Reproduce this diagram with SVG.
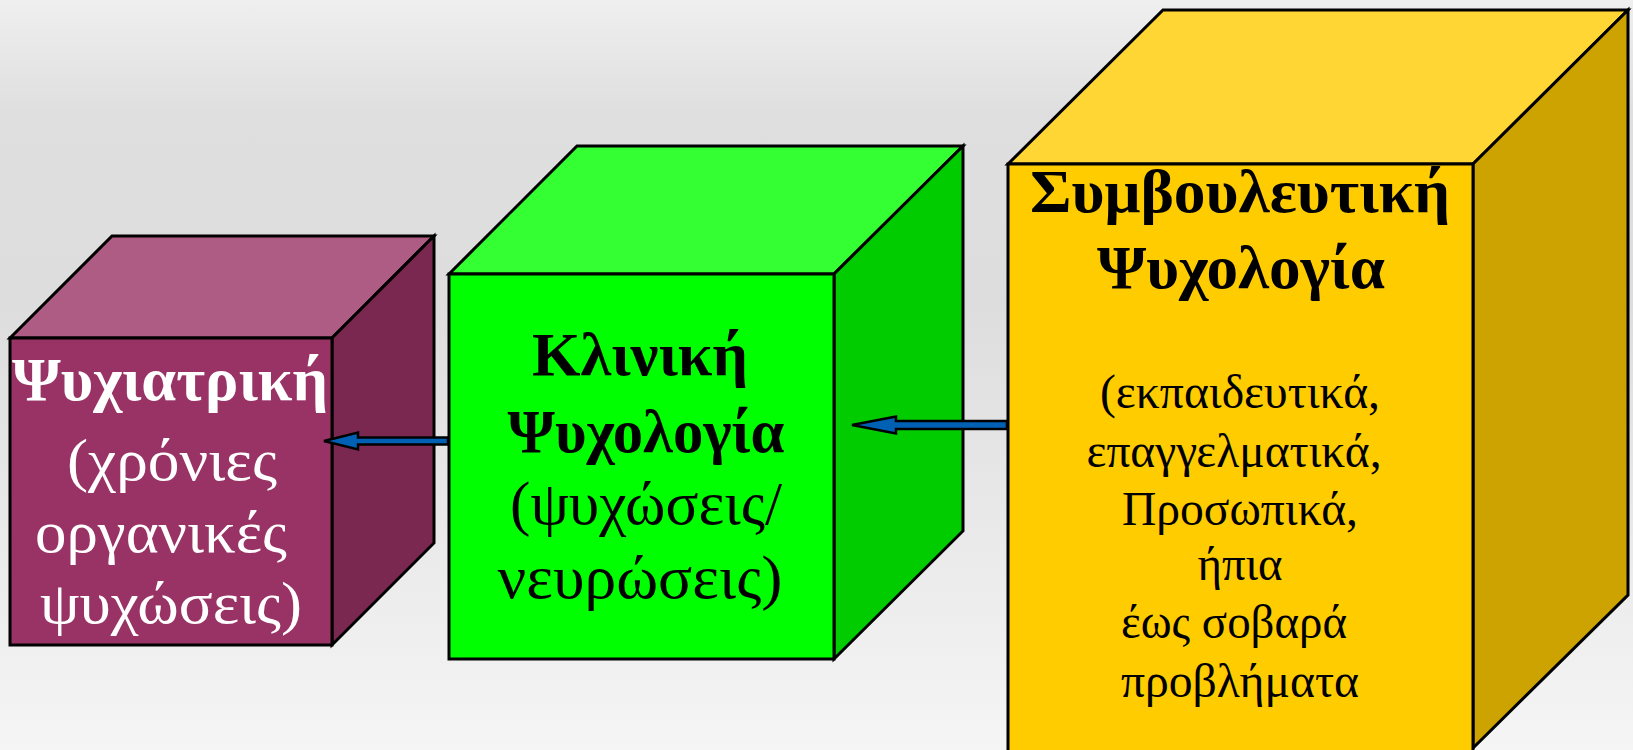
<svg xmlns="http://www.w3.org/2000/svg" width="1633" height="750" viewBox="0 0 1633 750">
<defs>
<linearGradient id="bg" x1="0" y1="0" x2="0" y2="1">
<stop offset="0" stop-color="#efefef"/>
<stop offset="0.15" stop-color="#dfdfdf"/>
<stop offset="0.4" stop-color="#dddddd"/>
<stop offset="1" stop-color="#f5f5f5"/>
</linearGradient>
<style>
.edge{stroke:#000;stroke-width:3;stroke-linejoin:miter}
.t{font-family:"Liberation Serif","Times New Roman",serif;text-anchor:middle}
.b{font-weight:bold}
.arrow{fill:#0061b4;stroke:#000;stroke-width:2.5;stroke-linejoin:miter}
</style>
</defs>
<rect width="1633" height="750" fill="url(#bg)"/>
<g id="psychiatry">
<polygon class="edge" fill="#ae5c83" points="10,338 112,236 434,236 332,338"/>
<polygon class="edge" fill="#7a2850" points="332,338 434,236 434,543 332,645"/>
<rect class="edge" fill="#993366" x="10" y="338" width="322" height="307"/>
<text class="t b" x="170" y="400" font-size="61" fill="#fff" textLength="316" lengthAdjust="spacingAndGlyphs">Ψυχιατρική</text>
<text class="t" x="172" y="480" font-size="60" fill="#fff" textLength="210" lengthAdjust="spacingAndGlyphs">(χρόνιες</text>
<text class="t" x="161" y="552" font-size="60" fill="#fff" textLength="252" lengthAdjust="spacingAndGlyphs">οργανικές</text>
<text class="t" x="171" y="623" font-size="60" fill="#fff" textLength="262" lengthAdjust="spacingAndGlyphs">ψυχώσεις)</text>
</g>
<g id="clinical">
<polygon class="edge" fill="#33ff33" points="449,274 577,146 963,146 834,274"/>
<polygon class="edge" fill="#00cc00" points="834,274 963,146 963,531 834,659"/>
<rect class="edge" fill="#00ff00" x="449" y="274" width="385" height="385"/>
<text class="t b" x="640" y="375" font-size="62" textLength="216" lengthAdjust="spacingAndGlyphs">Κλινική</text>
<text class="t b" x="646" y="452" font-size="62" textLength="277" lengthAdjust="spacingAndGlyphs">Ψυχολογία</text>
<text class="t" x="646" y="524" font-size="62" textLength="272" lengthAdjust="spacingAndGlyphs">(ψυχώσεις/</text>
<text class="t" x="640" y="598" font-size="62" textLength="285" lengthAdjust="spacingAndGlyphs">νευρώσεις)</text>
</g>
<g id="counseling">
<polygon class="edge" fill="#ffd633" points="1008,164 1163,10 1628,10 1473,164"/>
<polygon class="edge" fill="#cca300" points="1473,164 1628,10 1628,595 1473,748"/>
<rect class="edge" fill="#ffcc00" x="1008" y="164" width="465" height="590"/>
<text class="t b" x="1240" y="212" font-size="62" textLength="420" lengthAdjust="spacingAndGlyphs">Συμβουλευτική</text>
<text class="t b" x="1241" y="288" font-size="62" textLength="288" lengthAdjust="spacingAndGlyphs">Ψυχολογία</text>
<text class="t" x="1240" y="408" font-size="48" textLength="280" lengthAdjust="spacingAndGlyphs">(εκπαιδευτικά,</text>
<text class="t" x="1234" y="467" font-size="48" textLength="295" lengthAdjust="spacingAndGlyphs">επαγγελματικά,</text>
<text class="t" x="1240" y="525" font-size="48" textLength="236" lengthAdjust="spacingAndGlyphs">Προσωπικά,</text>
<text class="t" x="1240" y="580" font-size="48" textLength="85" lengthAdjust="spacingAndGlyphs">ήπια</text>
<text class="t" x="1234" y="638" font-size="48" textLength="226" lengthAdjust="spacingAndGlyphs">έως σοβαρά</text>
<text class="t" x="1240" y="697" font-size="48" textLength="238" lengthAdjust="spacingAndGlyphs">προβλήματα</text>
</g>
<g id="connectors">
<polygon class="arrow" points="324,441 358,432.5 358,437.5 448,437.5 448,444.5 358,444.5 358,449.5"/>
<polygon class="arrow" points="852,425 896,416.5 896,421 1007,421 1007,429 896,429 896,433.5"/>
</g>
</svg>
